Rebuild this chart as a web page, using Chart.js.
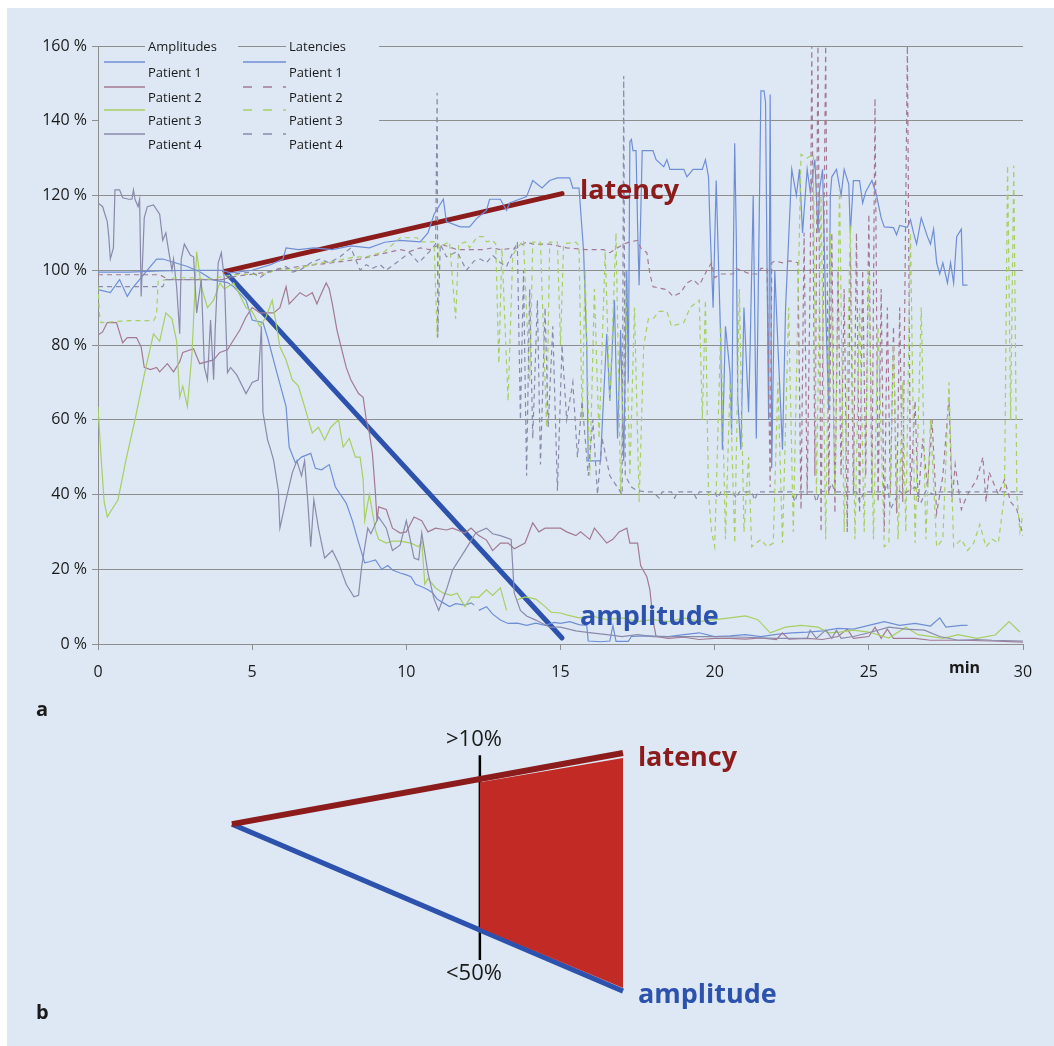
<!DOCTYPE html>
<html>
<head>
<meta charset="utf-8">
<script src="https://cdn.jsdelivr.net/npm/chart.js@4.4.1/dist/chart.umd.min.js"></script>
<style>
  html, body { margin: 0; padding: 0; background: #fff; }
  body { width: 1054px; height: 1046px; position: relative; overflow: hidden; }
  #bg { position: absolute; left: 7px; top: 8px; right: 0; bottom: 0; background: #dde8f4; }
  #chartA { position: absolute; left: 0; top: 0; }
  #chartB { position: absolute; left: 0; top: 690px; }
</style>
</head>
<body>
<div id="bg"></div>
<canvas id="chartA" width="1054" height="690"></canvas>
<canvas id="chartB" width="1054" height="356"></canvas>
<script>
// ---- panel a: values, [minutes, % of baseline] ----
const xTicks = [0, 5, 10, 15, 20, 25, 30];
const yTicks = [0, 20, 40, 60, 80, 100, 120, 140, 160];

const ampPatient1 = [[0,94.8],[0.4,94],[0.7,97.5],[0.95,93],[1.1,95],[1.5,99],[1.9,103],[2.1,103],[2.5,102],[2.9,101],[3.3,99.6],[3.7,97.5],[4.2,96.7],[4.4,95.6],[4.8,92],[5.0,86.7],[5.35,86],[5.5,82],[5.8,72.6],[6.1,63.5],[6.2,52.7],[6.4,48.5],[6.6,50],[6.9,51],[7.05,47],[7.25,46.6],[7.5,48],[7.7,42],[8.05,37.7],[8.25,33],[8.4,28.6],[8.65,21.7],[8.8,22],[9.0,22.5],[9.2,20],[9.4,21],[9.55,19.8],[9.8,19],[10.0,18.5],[10.15,18],[10.3,16],[10.5,15.3],[10.7,14.5],[10.85,13.7],[11.0,12],[11.2,11],[11.4,10],[11.6,10.8],[11.9,10.4],[12.1,11],[12.2,10.4],[12.25,null],[12.35,9],[12.6,10],[12.8,8],[13.05,6.4],[13.3,5.5],[13.6,5.6],[13.9,5],[14.2,5.6],[14.5,5],[14.8,5.8],[15,5.5],[15.3,6],[15.6,5.2],[15.85,5],[15.9,0.8],[16.3,0.6],[16.6,0.8],[16.7,5],[16.8,0.7],[17.2,0.7],[17.3,2],[17.8,2.2],[18.5,2],[19,2.5],[19.5,3],[20,2],[20.5,2.2],[21,2.5],[21.5,2],[22,2.6],[22.5,3],[23,3.2],[23.5,3.5],[24,4.2],[24.5,4],[25,5],[25.5,6],[26,5],[26.5,5.5],[27,4.8],[27.3,7],[27.5,4.5],[28,5],[28.2,5]];

const ampPatient2 = [[0,82.7],[0.15,83.5],[0.3,86],[0.6,86],[0.8,80.6],[0.95,82],[1.25,82],[1.4,79.5],[1.5,74],[1.7,73.4],[1.9,74],[2.0,72.8],[2.25,75],[2.45,72.8],[2.65,75.5],[2.75,78],[3.1,79],[3.3,75],[3.75,76],[3.95,78],[4.2,78.7],[4.4,81.4],[4.6,84],[4.8,87.5],[5.0,90],[5.25,88.6],[5.5,88.6],[5.7,88.6],[5.9,90],[6.1,95.6],[6.2,91],[6.55,94],[6.75,93],[6.95,94],[7.1,91],[7.2,93],[7.4,96.6],[7.5,95],[7.6,91],[7.75,84],[7.85,80.6],[8.05,74],[8.2,70.7],[8.45,67],[8.6,66],[8.7,60],[8.8,56.5],[8.9,51],[9.0,40],[9.05,33],[9.1,36.7],[9.35,36],[9.55,31],[9.8,29.7],[10.0,30],[10.25,34],[10.5,33],[10.7,30],[10.95,31],[11.3,30.5],[11.5,31],[11.9,29.7],[12.1,31],[12.35,29],[12.6,27.8],[12.8,25],[13.05,27],[13.3,27],[13.5,25.5],[13.85,27],[14.1,32.4],[14.3,30],[14.5,31],[14.75,31],[15.0,31],[15.2,30],[15.5,29],[15.65,30],[15.95,28],[16.1,31],[16.3,29],[16.5,27],[16.7,28],[16.9,30],[17.15,31],[17.25,27],[17.5,27],[17.6,21],[17.8,18],[17.9,14.5],[18.0,6.4],[18.1,2],[18.5,1.5],[19,1.8],[19.5,1.2],[20,1.5],[20.5,1.5],[21,1.3],[21.5,1.6],[22,1.2],[22.2,3],[22.4,1.3],[23,1.5],[23.5,1.2],[24,2],[24.3,4],[24.5,1.5],[25,2],[25.2,4.5],[25.4,1.5],[25.6,4],[25.8,1.5],[26.5,1.5],[27,1],[28,1],[29,0.8],[30,0.5]];

const ampPatient3 = [[0,63.5],[0.1,50],[0.2,38],[0.3,34],[0.45,36],[0.65,38.6],[0.9,49],[1.2,60],[1.5,72],[1.8,83],[2.0,81],[2.2,88.6],[2.4,87],[2.55,81],[2.65,66],[2.75,69],[2.9,63.5],[3.05,78],[3.2,105],[3.35,95.6],[3.55,90],[3.75,92],[3.95,96.6],[4.1,95],[4.4,96.6],[4.8,90],[5.0,89],[5.25,85],[5.45,87.5],[5.65,92],[5.9,79.5],[6.1,76],[6.3,70.7],[6.5,69],[6.7,63.5],[6.95,56.5],[7.15,58],[7.35,54.6],[7.55,58],[7.8,60],[7.95,52.7],[8.15,55],[8.35,50],[8.5,50],[8.6,44],[8.65,33],[8.8,40],[9.0,30.5],[9.1,28],[9.35,27],[9.55,27.5],[9.8,27.5],[10.15,27],[10.4,26],[10.5,27.5],[10.6,16],[10.7,17.5],[10.95,15],[11.2,13.6],[11.45,13],[11.65,13.6],[11.9,10],[12.1,12.6],[12.35,12.5],[12.6,14.5],[12.8,13],[13.05,15],[13.25,9],[13.4,null],[13.6,11.8],[13.85,12.6],[14.2,12],[14.5,10],[14.7,8.5],[15,8.3],[15.2,7.8],[15.6,7],[16.0,7.5],[16.5,6.5],[17.0,7],[17.5,6],[18,6.5],[18.5,6],[19,7],[19.5,6],[20,6.5],[20.5,7],[21,7.5],[21.4,6.5],[21.8,3],[22.3,4.5],[22.8,5],[23.35,4.5],[23.7,3],[24.05,3.2],[24.5,3.7],[25,3.2],[25.65,1.6],[26.2,4.5],[26.6,2.5],[27.4,1.5],[27.9,2.5],[28.5,1.5],[29.1,2.4],[29.55,6],[29.9,3.2]];

const ampPatient4 = [[0,118],[0.15,117],[0.3,113],[0.35,109],[0.4,103],[0.5,106],[0.55,121.5],[0.7,121.5],[0.8,119.4],[1.0,119],[1.1,119],[1.15,121.5],[1.2,119],[1.3,117],[1.35,119],[1.4,93],[1.5,114],[1.6,117],[1.8,117.5],[2.0,115],[2.1,108],[2.2,110],[2.3,104.7],[2.4,100],[2.45,103],[2.55,95.6],[2.65,83],[2.7,103],[2.8,107],[3.0,104],[3.1,103.6],[3.2,88.6],[3.35,97.5],[3.45,74],[3.55,70.7],[3.65,86.7],[3.75,70.7],[3.8,84],[3.9,102],[4.0,104.7],[4.1,97.5],[4.2,72.6],[4.3,74],[4.5,72],[4.8,67],[5.0,70],[5.2,70.7],[5.3,85],[5.35,62],[5.5,54.6],[5.6,52],[5.7,49],[5.85,41],[5.9,31],[6.1,38.6],[6.3,45.8],[6.45,49],[6.6,45],[6.7,49],[6.8,38.6],[6.9,26],[7.0,38.6],[7.15,31],[7.35,23],[7.6,25],[7.8,21.7],[8.05,16],[8.3,12.6],[8.45,13],[8.55,20.6],[8.75,31],[8.85,29.5],[9.1,34],[9.35,31],[9.55,25],[9.8,26.5],[10.0,33],[10.25,23],[10.4,22.5],[10.5,29.7],[10.7,19],[10.9,12],[11.05,9],[11.3,14.5],[11.5,19.8],[11.9,25],[12.25,29.7],[12.6,31],[12.8,29.5],[13.05,29],[13.4,28],[13.5,13.6],[13.7,9],[13.9,7.5],[14.2,6.4],[14.65,4.5],[15,4.5],[15.5,3.5],[16,3],[16.5,2.5],[17,2],[17.5,2.5],[18,2],[19,2],[20,2],[21,1.8],[22,1.5],[23,1.5],[23.1,3.7],[23.3,1.5],[23.6,3.7],[23.8,1.5],[23.95,3.7],[24.1,1.5],[24.5,2],[25,3],[25.65,4.5],[26.2,4],[26.8,3.7],[27.3,2],[27.9,1],[28.5,1.2],[29,1],[30,0.8]];

const latPatient1 = [[0,99.5],[1,99.5],[2,99.8],[3,100],[4,100],[4.3,99.3],[5,100],[5.6,101.5],[6,103],[6.1,106],[6.5,105.5],[7,106],[7.6,105.5],[8.2,106.5],[8.8,106],[9.3,107.5],[9.8,108],[10.45,107.6],[10.7,110],[10.9,115],[11.2,119],[11.3,113],[11.75,111.6],[12.05,111.6],[12.3,114],[12.6,116],[12.7,119],[13.05,119],[13.25,116],[13.35,118],[13.9,119.7],[14.1,124],[14.4,122],[14.65,124],[14.9,124.7],[15.3,124.7],[15.4,122],[15.6,122],[15.75,105],[15.85,80],[15.9,49],[16.0,49],[16.3,49],[16.35,58],[16.5,83],[16.6,65],[16.75,92],[16.85,55],[16.95,84],[17.05,49],[17.15,100],[17.2,70],[17.25,134.4],[17.3,135],[17.35,132],[17.45,132],[17.5,112],[17.55,96],[17.65,132],[18.0,132],[18.1,129.6],[18.35,127.7],[18.45,129.6],[18.55,127],[19.0,127],[19.1,125],[19.3,127],[19.6,127],[19.7,129.6],[19.8,125],[19.85,111.6],[19.95,90],[20.05,124],[20.1,109],[20.2,80],[20.25,52],[20.35,85],[20.5,72.5],[20.55,56],[20.6,100],[20.65,134],[20.7,110],[20.75,65],[20.85,52],[20.95,90],[21.1,62],[21.15,79],[21.25,120],[21.35,55],[21.5,148],[21.6,148],[21.65,145],[21.7,100],[21.75,60],[21.8,147],[21.85,47],[21.95,100],[22.05,80],[22.2,52],[22.3,90],[22.5,127],[22.65,120],[22.75,127],[22.85,110],[23.0,127],[23.1,121],[23.25,129.6],[23.35,110],[23.4,121.5],[23.5,127],[23.6,90],[23.7,62.6],[23.75,120],[23.8,125],[23.95,127],[24.1,120],[24.2,127],[24.35,123],[24.4,110],[24.5,124],[24.7,124],[24.8,118],[24.9,121],[25.1,124],[25.25,120],[25.4,114],[25.5,111.6],[25.8,111.4],[25.9,109.5],[26.0,112],[26.25,111.5],[26.35,113.5],[26.45,110],[26.55,107],[26.7,114],[26.9,109],[27.0,107],[27.1,111],[27.2,102],[27.3,99],[27.4,102],[27.55,96.6],[27.65,102],[27.75,96.6],[27.85,109],[28.0,111],[28.05,96],[28.2,96]];

const latPatient2 = [[0,98.8],[1,98.8],[2,98.8],[2.3,97.5],[3,97.5],[4,97.5],[4.4,98.3],[5.5,99.5],[6.5,101],[7.6,102],[8.5,103],[9.0,104],[9.8,105.5],[10.1,105],[10.45,106],[10.75,105.5],[11.1,107],[11.3,106.5],[11.65,105.5],[12.5,105.5],[12.8,106],[13.05,105.5],[13.6,106],[13.9,107.6],[14.1,107],[14.65,107],[15.2,106],[15.85,105.5],[16.4,105.5],[16.6,104.7],[16.85,106],[17.05,107],[17.25,107.6],[17.5,108],[17.6,106],[17.8,104.7],[17.9,99],[18.0,95.6],[18.45,94.8],[18.65,93],[18.9,94],[19.1,96.6],[19.3,97.5],[19.5,96],[19.75,100],[19.9,102],[20.0,98],[20.2,99],[20.6,99],[20.7,100.5],[21.15,99],[21.4,99],[21.5,100.5],[21.7,100.5],[21.8,42],[21.85,102],[21.95,102.5],[22.2,102],[22.45,102.5],[22.7,102],[22.8,36],[22.9,110],[23.0,40],[23.1,100],[23.15,160],[23.25,45],[23.35,160],[23.45,30],[23.6,160],[23.7,40],[23.8,110],[23.9,35],[24.0,100],[24.1,45],[24.2,95],[24.3,30],[24.4,105],[24.5,40],[24.6,110],[24.7,35],[24.8,100],[24.9,45],[25.0,115],[25.1,40],[25.2,146],[25.3,38],[25.4,95],[25.5,30],[25.6,90],[25.7,40],[25.8,85],[25.9,35],[26.0,90],[26.1,38],[26.25,160],[26.35,40],[26.5,65],[26.6,38],[26.75,55],[26.9,42],[27.05,60],[27.2,35],[27.4,45],[27.6,66],[27.7,38],[27.8,48],[28.0,36],[28.2,40],[28.5,44],[28.7,50],[28.8,38],[28.9,46],[29.2,40],[29.4,44],[29.6,38],[29.8,36],[30,29]];

const latPatient3 = [[0,96],[0.05,88],[0.1,86],[1.0,86.5],[1.8,86.5],[1.9,88],[1.95,97],[2.5,98],[3,98],[3.5,97.5],[4.4,98.8],[5.5,99],[5.8,100.5],[6.25,100],[7.2,102],[7.6,102.3],[8.3,103.5],[8.7,103.6],[9.3,105],[9.8,108.7],[10.35,108.7],[10.45,107.6],[10.9,107.6],[11.0,82],[11.05,107],[11.2,106.8],[11.4,107.6],[11.6,87],[11.7,107],[11.95,107.6],[12.05,106],[12.3,109],[12.5,109],[12.6,107.6],[12.8,108],[12.9,107],[13.0,75],[13.1,106],[13.3,65],[13.45,104],[13.6,106],[13.8,108],[14.0,70],[14.1,107.5],[14.35,107.5],[14.55,58],[14.65,107.5],[14.9,107.5],[15.0,80],[15.1,107],[15.2,107.2],[15.5,107.5],[15.6,106.5],[15.7,60],[15.8,100],[15.95,45],[16.1,95],[16.25,55],[16.45,105],[16.6,65],[16.8,110],[16.95,40],[17.1,100],[17.25,45],[17.4,90],[17.55,38],[17.7,80],[17.85,87],[18.0,87],[18.2,89],[18.45,89],[18.6,85],[19.0,86],[19.2,90],[19.5,92],[19.6,60],[19.7,92],[19.8,40],[19.9,30],[20.0,26],[20.2,85],[20.35,28],[20.5,70],[20.65,27],[20.8,95],[20.95,30],[21.1,50],[21.2,26],[21.5,28],[21.7,26],[21.9,27],[22.05,70],[22.2,27],[22.4,90],[22.55,30],[22.8,131],[23.0,130],[23.2,131],[23.3,40],[23.45,120],[23.6,28],[23.75,110],[23.9,40],[24.05,122],[24.2,30],[24.4,112],[24.55,28],[24.7,90],[24.85,30],[25.0,100],[25.15,28],[25.3,85],[25.5,26],[25.65,27],[25.8,80],[25.95,28],[26.1,70],[26.2,30],[26.35,110],[26.5,27],[26.7,90],[26.85,28],[27.0,60],[27.2,26],[27.4,28],[27.6,70],[27.75,26],[28.0,28],[28.2,25],[28.4,27],[28.6,32],[28.8,26],[29.0,28],[29.2,27],[29.4,40],[29.5,128],[29.6,60],[29.7,128],[29.8,40],[29.9,30],[30,35]];

const latPatient4 = [[0,95.6],[1,95.6],[2.1,95.6],[2.2,97.5],[3,97.5],[4.2,97.5],[4.4,99],[5,99.5],[5.25,98],[5.5,99.5],[6.1,101],[6.3,99.5],[6.55,100],[6.9,102],[7.2,103],[7.5,102],[7.85,103.6],[8.2,106],[8.35,103],[8.5,100],[8.7,101.5],[8.9,100.5],[9.15,101.5],[9.35,100],[9.8,102.8],[10.1,104.7],[10.4,102],[10.75,105],[10.95,107],[11.0,147.5],[11.02,82],[11.1,107],[11.3,103.6],[11.65,105],[11.95,100],[12.2,102.5],[12.4,103],[12.6,102],[12.8,104],[13.05,102],[13.25,101],[13.45,104.7],[13.6,107.6],[13.7,60],[13.8,100],[13.9,45],[14.0,95],[14.1,55],[14.25,92],[14.35,48],[14.5,90],[14.6,58],[14.75,85],[14.9,41],[15.05,80],[15.2,60],[15.4,70],[15.55,50],[15.7,65],[15.9,45],[16.05,60],[16.2,40],[16.35,55],[16.6,45],[17.0,40],[17.05,152],[17.1,45],[17.3,42],[17.5,41],[17.8,40.7],[18.0,40.7],[18.2,39],[18.3,40.7],[18.6,40.7],[18.7,39],[18.8,40.7],[19.3,40.7],[19.4,39],[19.5,40.7],[20.0,40.7],[20.1,39],[20.2,40.7],[20.6,40.7],[20.7,39],[20.8,40.7],[21.2,40.7],[21.3,38.5],[21.4,40.7],[22.5,40.7],[22.6,38],[22.7,40.7],[23.2,40.7],[23.3,38],[23.4,40.7],[23.7,41],[23.8,43],[23.9,40.7],[24.6,40.7],[24.7,38],[24.85,40.7],[25.5,40.7],[25.6,43],[25.7,36],[26.0,41],[26.1,40],[26.5,42],[26.7,38],[26.85,41],[27.1,40],[27.3,40.7],[30,40.7]];

// schematic trend lines drawn over panel a
const latencyTrend = [[4.12,99.7],[15.05,120.5]];
const amplitudeTrend = [[4.12,99.7],[15.05,1.6]];

// ---- panel b: schematic, arbitrary units ----
const schemLatency = [[0,0],[10,15.8]];
const schemAmplitude = [[0,0],[10,-37.1]];
const schemCutoff = [[6.34,15.3],[6.34,-30.2]];
const schemAlarmZone = [[6.34,9.3],[10,14.7],[10,-36.4],[6.34,-23.1],[6.34,9.3]];

const FONT = "'Open Sans', 'DejaVu Sans', sans-serif";
const C = {
  p1: '#6f8ed6', p2: '#a47a92', p3: '#a8cf62', p4: '#8a8aaa',
  grid: '#8e8e8e', text: '#1a1a1a', latency: '#8c1c1c', amplitude: '#2d52ad',
  zone: '#c22a26', bg: '#dde8f4'
};

const pts = arr => arr.map(([x, y]) => ({ x, y }));

function series(data, color, dashed) {
  return {
    data: pts(data), borderColor: color, borderWidth: 1.2,
    borderDash: dashed ? [5, 4] : [], pointRadius: 0, tension: 0, fill: false, spanGaps: false
  };
}

Chart.defaults.font.family = FONT;
Chart.defaults.color = C.text;

// labels and the custom two-column legend of panel a
const panelAText = {
  id: 'panelAText',
  afterDatasetsDraw(chart) {
    const { ctx, scales: { x, y }, chartArea } = chart;
    ctx.save();
    ctx.textBaseline = 'middle';
    ctx.textAlign = 'left';
    ctx.font = 'bold 27px ' + FONT;
    ctx.fillStyle = C.latency;
    ctx.fillText('latency', x.getPixelForValue(15.63), y.getPixelForValue(121));
    ctx.fillStyle = C.amplitude;
    ctx.fillText('amplitude', x.getPixelForValue(15.63), y.getPixelForValue(7.2));
    ctx.fillStyle = C.text;
    ctx.font = 'bold 16px ' + FONT;
    ctx.fillText('min', x.getPixelForValue(27.6), chartArea.bottom + 24);
    ctx.restore();
  },
  afterDraw(chart) {
    const { ctx, chartArea, scales: { y } } = chart;
    const L = chartArea.left;
    const top = y.getPixelForValue(160);
    ctx.save();
    ctx.fillStyle = C.bg;
    ctx.fillRect(L + 1, top - 10, 280, 122);
    ctx.font = '13px ' + FONT;
    ctx.textBaseline = 'middle';
    ctx.fillStyle = C.text;
    const cols = [
      { lineX: [L - 1, L + 47], patX: [L + 6, L + 47], textX: L + 50, title: 'Amplitudes', dashed: [false, false, false, false] },
      { lineX: [L + 140, L + 188], patX: [L + 145, L + 188], textX: L + 191, title: 'Latencies', dashed: [false, true, true, true] }
    ];
    const colors = [C.p1, C.p2, C.p3, C.p4];
    const rowsY = [16, 41, 64, 88];
    cols.forEach(col => {
      ctx.strokeStyle = C.grid;
      ctx.lineWidth = 1;
      ctx.setLineDash([]);
      ctx.beginPath();
      ctx.moveTo(col.lineX[0], top + 0.5);
      ctx.lineTo(col.lineX[1], top + 0.5);
      ctx.stroke();
      ctx.fillText(col.title, col.textX, top + 1);
      colors.forEach((c, i) => {
        const ly = top + rowsY[i];
        ctx.strokeStyle = c;
        ctx.lineWidth = 1.6;
        ctx.setLineDash(col.dashed[i] ? [9, 11] : []);
        ctx.beginPath();
        ctx.moveTo(col.patX[0], ly);
        ctx.lineTo(col.patX[1], ly);
        ctx.stroke();
        ctx.fillText('Patient ' + (i + 1), col.textX, ly + 11);
      });
    });
    ctx.restore();
  }
};

new Chart(document.getElementById('chartA'), {
  type: 'line',
  data: {
    datasets: [
      series(latPatient4, C.p4, true),
      series(latPatient3, C.p3, true),
      series(latPatient2, C.p2, true),
      series(latPatient1, C.p1, false),
      series(ampPatient4, C.p4, false),
      series(ampPatient3, C.p3, false),
      series(ampPatient2, C.p2, false),
      series(ampPatient1, C.p1, false),
      { data: pts(latencyTrend), borderColor: C.latency, borderWidth: 5, pointRadius: 0, borderCapStyle: 'round' },
      { data: pts(amplitudeTrend), borderColor: C.amplitude, borderWidth: 5, pointRadius: 0, borderCapStyle: 'round' }
    ]
  },
  options: {
    responsive: false,
    animation: false,
    layout: { padding: { left: 0, top: 46, right: 31, bottom: 0 } },
    plugins: { legend: { display: false }, tooltip: { enabled: false } },
    scales: {
      x: {
        type: 'linear', min: 0, max: 30,
        afterFit: s => { s.height = 46; },
        afterBuildTicks: s => { s.ticks = xTicks.map(v => ({ value: v })); },
        grid: { drawOnChartArea: false, color: C.grid, tickLength: 6 },
        border: { color: C.grid },
        ticks: { font: { size: 16 }, padding: 13, maxRotation: 0, color: C.text }
      },
      y: {
        min: 0, max: 160,
        afterFit: s => { s.width = 98; },
        afterBuildTicks: s => { s.ticks = yTicks.map(v => ({ value: v })); },
        grid: { color: C.grid, tickLength: 6, lineWidth: 1 },
        border: { color: C.grid },
        ticks: { font: { size: 16 }, padding: 5, color: C.text, callback: v => v + ' %' }
      }
    }
  },
  plugins: [panelAText]
});

// panel b labels
const panelBText = {
  id: 'panelBText',
  afterDatasetsDraw(chart) {
    const { ctx, scales: { x, y } } = chart;
    ctx.save();
    ctx.textBaseline = 'middle';
    ctx.fillStyle = C.text;
    ctx.font = 'bold 20px ' + FONT;
    ctx.textAlign = 'left';
    ctx.fillText('a', 36, 20);
    ctx.fillText('b', 36, 323);
    ctx.font = '22px ' + FONT;
    ctx.textAlign = 'center';
    ctx.fillText('>10%', x.getPixelForValue(6.19), y.getPixelForValue(18.7));
    ctx.fillText('<50%', x.getPixelForValue(6.19), y.getPixelForValue(-33.3));
    ctx.textAlign = 'left';
    ctx.font = 'bold 27px ' + FONT;
    ctx.fillStyle = C.latency;
    ctx.fillText('latency', x.getPixelForValue(10.38), y.getPixelForValue(14.7));
    ctx.fillStyle = C.amplitude;
    ctx.fillText('amplitude', x.getPixelForValue(10.38), y.getPixelForValue(-38));
    ctx.restore();
  }
};

new Chart(document.getElementById('chartB'), {
  type: 'line',
  data: {
    datasets: [
      { data: pts(schemAlarmZone), borderWidth: 0, borderColor: C.zone, backgroundColor: C.zone, fill: 'shape', pointRadius: 0 },
      { data: pts(schemLatency), borderColor: C.latency, borderWidth: 6, pointRadius: 0 },
      { data: pts(schemAmplitude), borderColor: C.amplitude, borderWidth: 5, pointRadius: 0 },
      { data: pts(schemCutoff), borderColor: '#000', borderWidth: 2.5, pointRadius: 0 }
    ]
  },
  options: {
    responsive: false,
    animation: false,
    layout: { padding: 0 },
    plugins: { legend: { display: false }, tooltip: { enabled: false } },
    scales: {
      x: { type: 'linear', min: -5.93, max: 21.02, display: false },
      y: { min: -49.3, max: 29.8, display: false }
    }
  },
  plugins: [panelBText]
});
</script>
</body>
</html>
